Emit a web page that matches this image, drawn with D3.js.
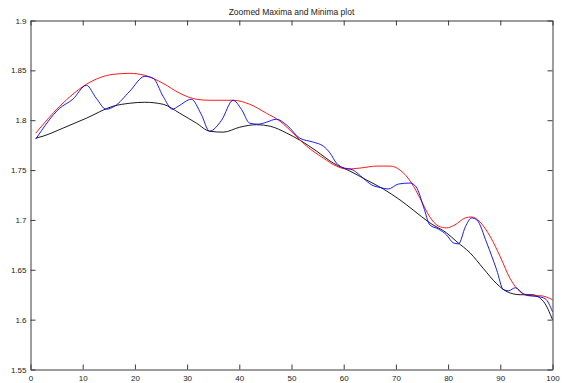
<!DOCTYPE html>
<html>
<head>
<meta charset="utf-8">
<script src="https://cdn.jsdelivr.net/npm/d3@7"></script>
<style>
  html, body { margin: 0; padding: 0; background: #fff; }
  svg { display: block; }
  text { font-family: Arial, "Liberation Sans", sans-serif; fill: #222; }
</style>
</head>
<body>
<svg id="chart" width="566" height="383"></svg>
<script>
// Signal samples (x position, value)
const signalX = [1, 5.6, 8.1, 10.7, 12.6, 14.5, 16.1, 19, 21.9, 23.5, 25.4, 27.2, 28.3, 30.8, 32.7, 34.3, 36.6, 38.8, 40.4, 42, 43.6, 45.2, 47.1, 49.1, 51.6, 54.2, 56.1, 57.4, 58.6, 59.6, 61.8, 63.7, 65.4, 67, 68.5, 70.5, 72.7, 73.9, 75.3, 76.5, 78.1, 79.7, 81, 82, 83.3, 84.5, 85.5, 87.4, 89.3, 90.6, 91.6, 92.9, 94.4, 95.7, 97.3, 98.6, 100];
const signalY = [1.781, 1.812, 1.821, 1.835, 1.822, 1.811, 1.814, 1.829, 1.844, 1.842, 1.824, 1.811, 1.814, 1.821, 1.806, 1.789, 1.800, 1.820, 1.811, 1.797, 1.796, 1.798, 1.801, 1.795, 1.782, 1.778, 1.774, 1.767, 1.757, 1.753, 1.750, 1.742, 1.735, 1.7325, 1.731, 1.736, 1.737, 1.733, 1.713, 1.695, 1.691, 1.685, 1.677, 1.676, 1.693, 1.702, 1.700, 1.677, 1.650, 1.630, 1.629, 1.632, 1.626, 1.624, 1.623, 1.621, 1.608];

// Upper envelope through the maxima
const upperX = [1, 5.6, 10.7, 15.8, 19, 21.9, 25.4, 28.6, 31.8, 34.3, 38.8, 42, 45.2, 47.8, 50.3, 52.9, 56.1, 58.6, 60.6, 63.1, 66.3, 68.9, 70.8, 73, 74.6, 76.5, 78.1, 79.7, 81.3, 83.3, 84.5, 86.1, 88.1, 90, 91.9, 93.8, 95.4, 97.6, 100];
const upperY = [1.787, 1.814, 1.836, 1.846, 1.847, 1.845, 1.837, 1.827, 1.821, 1.820, 1.820, 1.816, 1.807, 1.799, 1.787, 1.774, 1.762, 1.754, 1.751, 1.752, 1.754, 1.754, 1.750, 1.737, 1.722, 1.703, 1.694, 1.692, 1.695, 1.702, 1.703, 1.698, 1.683, 1.663, 1.641, 1.628, 1.624, 1.624, 1.620];

// Lower envelope through the minima
const lowerX = [1, 2.4, 6.2, 10.7, 15.8, 19, 21.9, 25.4, 28.6, 31.8, 34.3, 36.9, 40.1, 43.3, 45.9, 49.1, 51.6, 54.8, 58, 61.2, 64.4, 67.6, 70.8, 73.3, 76.5, 79.7, 81.7, 84.2, 86.8, 89.3, 91.3, 93.8, 96.1, 98.3, 100];
const lowerY = [1.782, 1.784, 1.792, 1.802, 1.814, 1.817, 1.818, 1.816, 1.807, 1.797, 1.789, 1.788, 1.793, 1.7955, 1.794, 1.787, 1.780, 1.769, 1.757, 1.749, 1.740, 1.731, 1.720, 1.710, 1.697, 1.687, 1.678, 1.667, 1.651, 1.636, 1.628, 1.625, 1.625, 1.618, 1.600];

const xTicks = [0, 10, 20, 30, 40, 50, 60, 70, 80, 90, 100];
const yTicks = [1.55, 1.6, 1.65, 1.7, 1.75, 1.8, 1.85, 1.9];
const titleText = "Zoomed Maxima and Minima plot";

const svg = d3.select("#chart");
const plotLeft = 30.5, plotRight = 552.5, plotTop = 20.5, plotBottom = 369.5;

const x = d3.scaleLinear().domain([0, 100]).range([plotLeft, plotRight]);
const y = d3.scaleLinear().domain([1.55, 1.9]).range([plotBottom, plotTop]);

const axisColor = "#3a3a3a";
const tickLen = 5;

// Series lines
const series = [
  { xs: lowerX, ys: lowerY, color: "#000000" },
  { xs: upperX, ys: upperY, color: "#ff0000" },
  { xs: signalX, ys: signalY, color: "#0000ff" }
];
const line = d3.line().x(d => x(d[0])).y(d => y(d[1])).curve(d3.curveMonotoneX);
series.forEach(s => {
  svg.append("path")
    .datum(s.xs.map((v, i) => [v, s.ys[i]]))
    .attr("d", line)
    .attr("fill", "none")
    .attr("stroke", s.color)
    .attr("stroke-width", 0.9)
    .attr("stroke-linejoin", "round");
});

// Axes: bottom and left carry labels; top and right mirror the ticks
const fmt = d => String(+d.toFixed(2));
const fontSize = "8px";

const xBottom = d3.axisBottom(x).tickValues(xTicks).tickSizeInner(-tickLen).tickSizeOuter(0).tickPadding(4).tickFormat(fmt);
const xTop = d3.axisTop(x).tickValues(xTicks).tickSizeInner(-tickLen).tickSizeOuter(0).tickFormat("");
const yLeft = d3.axisLeft(y).tickValues(yTicks).tickSizeInner(-tickLen).tickSizeOuter(0).tickPadding(4).tickFormat(fmt);
const yRight = d3.axisRight(y).tickValues(yTicks).tickSizeInner(-tickLen).tickSizeOuter(0).tickFormat("");

const gB = svg.append("g").attr("transform", `translate(0,${plotBottom})`).call(xBottom);
const gT = svg.append("g").attr("transform", `translate(0,${plotTop})`).call(xTop);
const gL = svg.append("g").attr("transform", `translate(${plotLeft},0)`).call(yLeft);
const gR = svg.append("g").attr("transform", `translate(${plotRight},0)`).call(yRight);

[gB, gT, gL, gR].forEach(g => {
  g.select(".domain").attr("stroke", axisColor).attr("stroke-width", 1);
  g.selectAll(".tick line").attr("stroke", axisColor).attr("stroke-width", 1);
  g.selectAll(".tick text")
    .attr("font-family", "Arial, 'Liberation Sans', sans-serif")
    .attr("font-size", fontSize)
    .attr("fill", "#222");
});
gB.selectAll(".tick text").attr("y", 4).attr("dy", "0.9em");
gL.selectAll(".tick text").attr("x", -4);

// Title
svg.append("text")
  .attr("x", (plotLeft + plotRight) / 2)
  .attr("y", 15)
  .attr("text-anchor", "middle")
  .attr("font-size", "8.5px")
  .text(titleText);
</script>
</body>
</html>
